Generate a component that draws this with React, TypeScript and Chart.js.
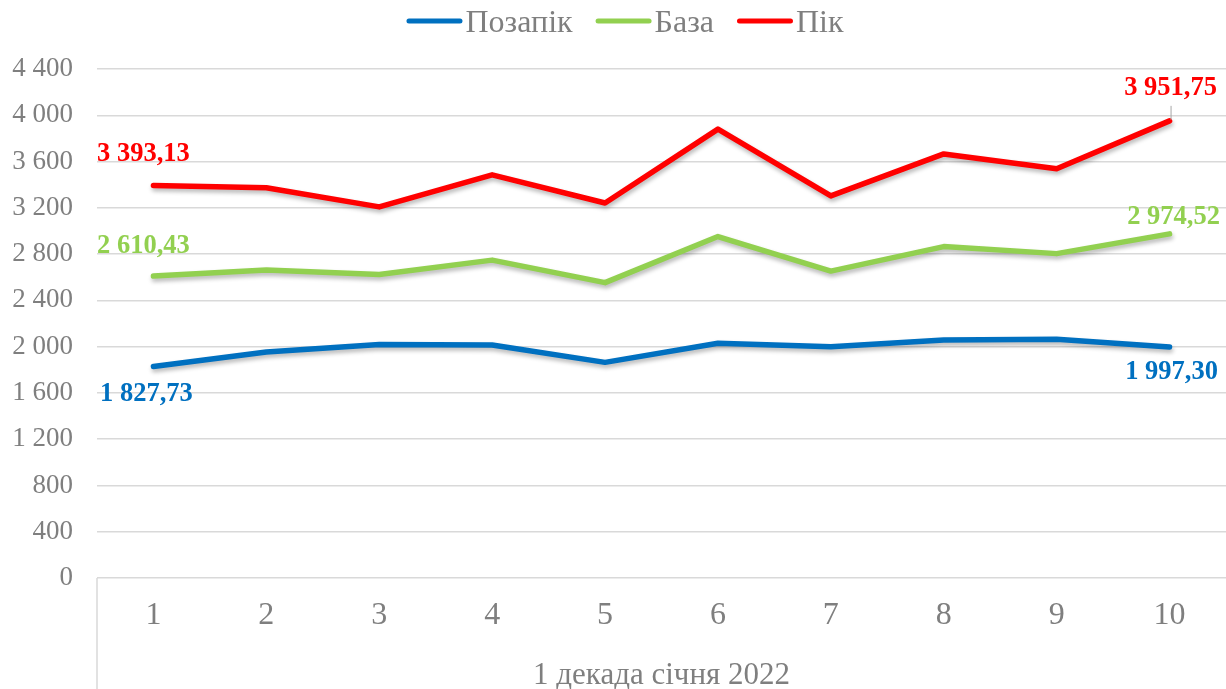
import React, { useEffect, useRef } from "react";
import { Chart, registerables } from "chart.js";

Chart.register(...registerables);

const categories: string[] = ["1", "2", "3", "4", "5", "6", "7", "8", "9", "10"];
const groupLabel = "1 декада січня 2022";
const seriesNames: string[] = ["Позапік", "База", "Пік"];
const offPeak: number[] = [1827.73, 1954, 2018, 2014, 1864, 2030, 1999, 2058, 2064, 1997.3];
const base: number[] = [2610.43, 2662, 2623, 2748, 2553, 2952, 2653, 2865, 2804, 2974.52];
const peak: number[] = [3393.13, 3374, 3208, 3485, 3242, 3880, 3303, 3666, 3537, 3951.75];
const yMin = 0;
const yMax = 4400;
const yStep = 400;

const colors = ["#0070C0", "#92D050", "#FF0000"];
const FONT = '"Liberation Serif", "Times New Roman", serif';
const GRAY = "#7f7f7f";
const GRID = "#d9d9d9";

// label offsets (dx, dy) relative to first / last point of each series
const labelOffsets = [
  [[-7, 28], [2, 25]],
  [[-10, -30], [4, -17]],
  [[-10, -31], [1, -33]],
];

const fmtThousands = (v: number) =>
  String(v).replace(/\B(?=(\d{3})+(?!\d))/g, " ");
const fmtValue = (v: number) => {
  const [i, d] = v.toFixed(2).split(".");
  return fmtThousands(Number(i)) + "," + d;
};

const shadowPlugin = {
  id: "lineShadow",
  beforeDatasetDraw(chart: any) {
    const ctx = chart.ctx;
    ctx.save();
    ctx.shadowColor = "rgba(0,0,0,0.28)";
    ctx.shadowBlur = 4;
    ctx.shadowOffsetX = 1;
    ctx.shadowOffsetY = 3;
  },
  afterDatasetDraw(chart: any) {
    chart.ctx.restore();
  },
};

const extrasPlugin = {
  id: "extras",
  afterDraw(chart: any) {
    const ctx = chart.ctx;
    const area = chart.chartArea;
    ctx.save();
    // left separator of category axis
    ctx.strokeStyle = GRID;
    ctx.lineWidth = 1.5;
    ctx.beginPath();
    ctx.moveTo(area.left, area.bottom);
    ctx.lineTo(area.left, chart.height);
    ctx.stroke();

    // group label
    ctx.fillStyle = GRAY;
    ctx.font = `31px ${FONT}`;
    ctx.textAlign = "center";
    ctx.textBaseline = "alphabetic";
    ctx.fillText(groupLabel, (area.left + area.right) / 2, area.bottom + 106);

    // data labels
    chart.data.datasets.forEach((ds: any, i: number) => {
      const meta = chart.getDatasetMeta(i);
      const n = meta.data.length;
      [0, n - 1].forEach((idx, k) => {
        const el = meta.data[idx];
        const [dx, dy] = labelOffsets[i][k];
        ctx.font = `bold 26.5px ${FONT}`;
        ctx.fillStyle = colors[i];
        ctx.textAlign = "center";
        ctx.textBaseline = "middle";
        ctx.fillText(fmtValue(ds.data[idx]), el.x + dx, el.y + dy);
        if (i === 2 && k === 1) {
          ctx.strokeStyle = "#a6a6a6";
          ctx.lineWidth = 1;
          ctx.beginPath();
          ctx.moveTo(el.x + 1.5, el.y - 15);
          ctx.lineTo(el.x + 1.5, el.y - 1);
          ctx.stroke();
        }
      });
    });

    // legend
    ctx.font = `32px ${FONT}`;
    ctx.textBaseline = "alphabetic";
    ctx.textAlign = "left";
    const lineLen = 51;
    const gapLT = 5.5;
    const gapItems = 25.5;
    const names = chart.data.datasets.map((d: any) => d.label);
    const widths = names.map((t: string) => ctx.measureText(t).width);
    let total = 0;
    widths.forEach((w: number, i: number) => {
      total += 2.5 + lineLen + gapLT + w + (i < widths.length - 1 ? gapItems - 2.5 : 0);
    });
    let x = 625 - total / 2;
    const ly = 21;
    names.forEach((t: string, i: number) => {
      ctx.strokeStyle = colors[i];
      ctx.lineWidth = 5;
      ctx.lineCap = "round";
      ctx.beginPath();
      ctx.moveTo(x + 2.5, ly);
      ctx.lineTo(x + 2.5 + lineLen, ly);
      ctx.stroke();
      const tx = x + 2.5 + lineLen + gapLT;
      ctx.fillStyle = GRAY;
      ctx.fillText(t, tx, 32);
      x = tx + widths[i] + gapItems - 2.5;
    });
    ctx.restore();
  },
};

export default function App() {
  const ref = useRef<HTMLCanvasElement | null>(null);
  useEffect(() => {
    document.body.style.margin = "0";
    const canvas = ref.current;
    if (!canvas) return;
    const chart = new Chart(canvas, {
      type: "line",
      data: {
        labels: categories,
        datasets: [offPeak, base, peak].map((d, i) => ({
          label: seriesNames[i],
          data: d,
          borderColor: colors[i],
          backgroundColor: colors[i],
          borderWidth: 5.5,
          pointRadius: 0,
          pointHoverRadius: 0,
          tension: 0,
          borderCapStyle: "round",
          borderJoinStyle: "round",
          fill: false,
        })),
      },
      options: {
        animation: false,
        responsive: true,
        maintainAspectRatio: false,
        layout: { padding: { top: 69, left: 0, right: 0, bottom: 0 } },
        plugins: {
          legend: { display: false },
          tooltip: { enabled: false },
        },
        scales: {
          x: {
            offset: true,
            grid: { display: false, drawTicks: false },
            border: { display: false },
            ticks: {
              color: GRAY,
              font: { family: FONT, size: 32 },
              padding: 18,
              maxRotation: 0,
              autoSkip: false,
            },
            afterFit: (s: any) => {
              s.height = 111;
            },
          },
          y: {
            min: yMin,
            max: yMax,
            grid: { color: GRID, lineWidth: 1.5, drawTicks: false },
            border: { display: false },
            ticks: {
              stepSize: yStep,
              color: GRAY,
              font: { family: FONT, size: 27 },
              padding: 24,
              callback: (v: any) => fmtThousands(Number(v)),
            },
            afterFit: (s: any) => {
              s.width = 97;
            },
          },
        },
      },
      plugins: [shadowPlugin, extrasPlugin],
    });
    return () => chart.destroy();
  }, []);
  return (
    <div style={{ width: 1226, height: 689, position: "relative" }}>
      <canvas ref={ref} />
    </div>
  );
}
